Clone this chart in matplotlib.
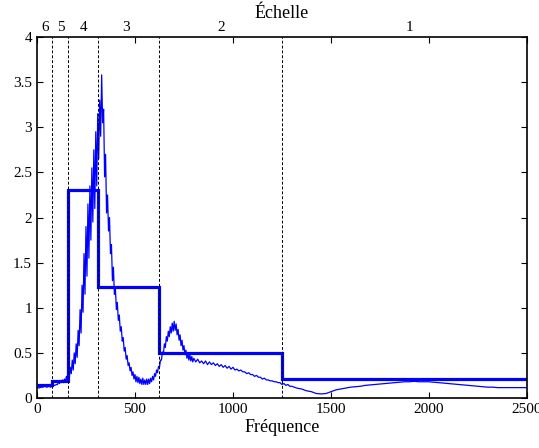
import matplotlib.pyplot as plt
from matplotlib.ticker import FuncFormatter
import matplotlib.transforms as mtransforms

plt.rcParams['font.family'] = ['Liberation Serif', 'DejaVu Serif']
plt.rcParams['mathtext.fontset'] = 'stix'

# spectrum
freq = [0, 10, 20, 30, 40, 50, 60, 70, 80, 90, 100]
freq += list(range(105, 805, 5))
freq += list(range(810, 1310, 10))
freq += list(range(1325, 2525, 25))

ampl = [0.12, 0.11, 0.12, 0.12, 0.13, 0.12, 0.13, 0.12, 0.14, 0.14, 0.15,
        # 105 - 800, every 5
        0.15, 0.18, 0.16, 0.19, 0.17, 0.20, 0.17, 0.21, 0.18, 0.24,
        0.19, 0.27, 0.22, 0.34, 0.27, 0.42, 0.31, 0.50, 0.38, 0.60,
        0.45, 0.75, 0.58, 0.98, 0.72, 1.25, 0.95, 1.60, 1.15, 1.90,
        1.35, 2.15, 1.55, 2.35, 1.75, 2.55, 1.95, 2.75, 2.10, 2.95,
        2.35, 3.15, 2.65, 3.30, 2.90, 3.58, 3.05, 3.20, 2.45, 2.70,
        2.05, 2.25, 1.85, 2.00, 1.60, 1.70, 1.30, 1.45, 1.15, 1.22,
        0.98, 1.06, 0.86, 0.92, 0.74, 0.79, 0.63, 0.67, 0.52, 0.56,
        0.43, 0.47, 0.36, 0.39, 0.30, 0.34, 0.25, 0.29, 0.21, 0.26,
        0.18, 0.24, 0.17, 0.23, 0.16, 0.21, 0.15, 0.22, 0.15, 0.20,
        0.15, 0.21, 0.15, 0.21, 0.16, 0.22, 0.18, 0.24, 0.20, 0.27,
        0.24, 0.31, 0.28, 0.35, 0.34, 0.42, 0.42, 0.51, 0.49, 0.60,
        0.56, 0.68, 0.63, 0.74, 0.68, 0.79, 0.72, 0.83, 0.74, 0.85,
        0.75, 0.82, 0.70, 0.76, 0.64, 0.70, 0.58, 0.64, 0.53, 0.58,
        0.48, 0.53, 0.44, 0.50, 0.42, 0.48, 0.41, 0.46, 0.40, 0.44,
        # 810 - 1300, every 10
        0.40, 0.43, 0.39, 0.41, 0.38, 0.41, 0.37, 0.40, 0.37, 0.39,
        0.36, 0.38, 0.35, 0.37, 0.34, 0.36, 0.33, 0.35, 0.32, 0.34,
        0.31, 0.32, 0.30, 0.31, 0.29, 0.29, 0.27, 0.28, 0.26, 0.26,
        0.24, 0.25, 0.23, 0.23, 0.21, 0.22, 0.20, 0.20, 0.19, 0.19,
        0.18, 0.18, 0.17, 0.17, 0.15, 0.16, 0.14, 0.15, 0.13, 0.13,
        # 1325 - 2500, every 25
        0.11, 0.10, 0.08, 0.07, 0.05, 0.045, 0.05, 0.07, 0.09, 0.10,
        0.11, 0.12, 0.125, 0.13, 0.14, 0.145, 0.15, 0.155, 0.16, 0.165,
        0.17, 0.175, 0.18, 0.18, 0.185, 0.18, 0.18, 0.18, 0.175, 0.17,
        0.165, 0.16, 0.155, 0.15, 0.145, 0.14, 0.135, 0.13, 0.125, 0.12,
        0.12, 0.115, 0.115, 0.115, 0.115, 0.115, 0.115, 0.115]

# scale bands
edges = [0, 78.125, 156.25, 312.5, 625, 1250, 2500]
levels = [0.14, 0.19, 2.31, 1.23, 0.5, 0.21]
scale_names = ['6', '5', '4', '3', '2', '1']
scale_pos = [44, 120, 238, 455, 940, 1900]

fig = plt.figure(figsize=(5.39, 4.48), dpi=100)
ax = fig.add_axes([0.0686, 0.1116, 0.9091, 0.8058])

ax.plot(freq, ampl, color='#0000ff', lw=0.9)
ax.stairs(levels, edges, baseline=None, color='#0000ff', lw=2.3)

for e in edges[1:-1]:
    ax.axvline(e, color='black', lw=0.7, ls=(0, (3, 2)))

trans = mtransforms.blended_transform_factory(ax.transData, ax.transAxes)
for name, pos in zip(scale_names, scale_pos):
    ax.text(pos, 1.008, name, transform=trans, ha='center', va='bottom',
            fontsize=11)

ax.set_xlim(0, 2500)
ax.set_ylim(0, 4)
ax.set_xticks([0, 500, 1000, 1500, 2000, 2500])
ax.set_yticks([0, 0.5, 1, 1.5, 2, 2.5, 3, 3.5, 4])
ax.yaxis.set_major_formatter(FuncFormatter(lambda v, p: '%g' % v))
ax.tick_params(direction='in', top=True, right=True, labelsize=11,
               length=4, width=0.8)
for s in ax.spines.values():
    s.set_linewidth(1.2)

ax.set_xlabel('Fréquence', fontsize=13, labelpad=2)
ax.set_title('Échelle', fontsize=13, pad=14)

fig.savefig('out.png', dpi=100)
